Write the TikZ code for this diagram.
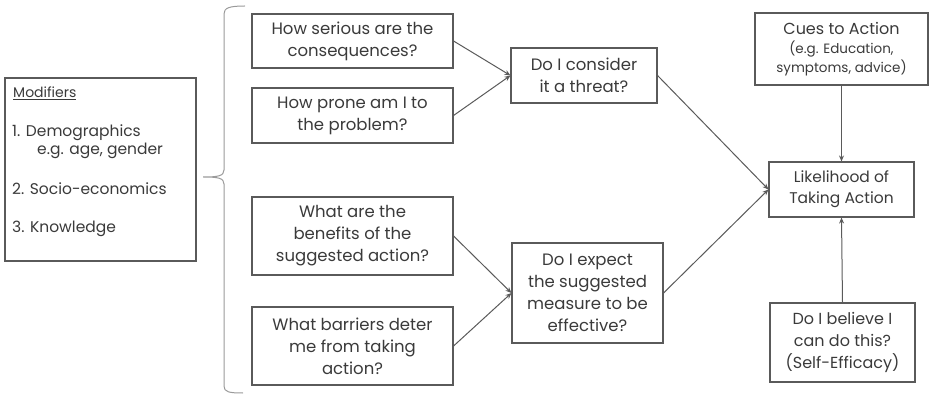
\documentclass[tikz,border=0pt]{standalone}
\usepackage{fontspec}
\setmainfont{Poppins}
\usetikzlibrary{arrows.meta}
\definecolor{boxline}{HTML}{5A5A5A}
\definecolor{txt}{HTML}{3A3A3A}
\definecolor{brace}{HTML}{9A9A9A}
\tikzset{
  qbox/.style={draw=boxline, line width=1.1pt, align=center, inner sep=2pt,
    text=txt, font=\fontsize{16.5}{22}\selectfont},
  modtext/.style={anchor=base west, inner sep=0pt, text=txt, font=\fontsize{15.5}{18}\selectfont},
  conn/.style={draw=boxline, line width=1pt, -{Stealth[length=6pt,width=5pt]}},
}
\begin{document}
\begin{tikzpicture}[x=1pt,y=-1pt]
\useasboundingbox (0,0) rectangle (929,395);
% Modifiers
\node[draw=boxline, line width=1.1pt, minimum width=191pt, minimum height=183pt] (mod) at (100.5,169.5) {};
\node[modtext, font=\fontsize{14}{17}\selectfont] (m0) at (13,98) {\underline{Modifiers}};
\node[modtext] (m1) at (12,137) {1. Demographics};
\node[modtext] (m1b) at (37,155) {e.g. age, gender};
\node[modtext] (m2) at (12,195) {2. Socio-economics};
\node[modtext] (m3) at (12,233) {3. Knowledge};
% brace
\draw[brace, line width=1pt] (245,6) .. controls (229,6) and (224,8) .. (224,14) -- (224,170)
  .. controls (224,176) and (218,177) .. (203,177)
  .. controls (218,177) and (224,178) .. (224,184) -- (224,386)
  .. controls (224,392) and (229,393) .. (243,393);
% question boxes
\node[qbox, minimum width=201pt, minimum height=54pt] (b1) at (352.5,41) {How serious are the\\consequences?};
\node[qbox, minimum width=201pt, minimum height=55pt] (b2) at (352.5,115.5) {How prone am I to\\the problem?};
\node[qbox, minimum width=201pt, minimum height=78pt] (b3) at (352.5,236) {What are the\\benefits of the\\suggested action?};
\node[qbox, minimum width=201pt, minimum height=78pt] (b4) at (352.5,346) {What barriers deter\\me from taking\\action?};
\node[qbox, minimum width=146pt, minimum height=55pt] (thr) at (584,75.5) {Do I consider\\it a threat?};
\node[qbox, minimum width=151pt, minimum height=100pt] (eff) at (587.5,293) {Do I expect\\the suggested\\measure to be\\effective?};
\node[qbox, minimum width=145pt, minimum height=55pt, font=\fontsize{15.5}{21}\selectfont] (lik) at (841.5,189.5) {Likelihood of\\Taking Action};
\node[qbox, minimum width=173pt, minimum height=72pt, font=\fontsize{16}{20}\selectfont] (cue) at (841.5,49) {Cues to Action\\[-1pt]{\fontsize{13.5}{19}\selectfont (e.g. Education,}\\[-1pt]{\fontsize{13.5}{19}\selectfont symptoms, advice)}};
\node[qbox, minimum width=145pt, minimum height=79pt, font=\fontsize{16}{22}\selectfont] (se) at (842.5,342.5) {Do I believe I\\can do this?\\(Self-Efficacy)};
% connectors
\draw[conn] (b1.east) -- (thr.west);
\draw[conn] (b2.east) -- (thr.west);
\draw[conn] (b3.east) -- (eff.west);
\draw[conn] (b4.east) -- (eff.west);
\draw[conn] (thr.east) -- (lik.west);
\draw[conn] (eff.east) -- (lik.west);
\draw[conn] (cue.south) -- (lik.north);
\draw[conn] (se.north) -- (lik.south);
\end{tikzpicture}
\end{document}
